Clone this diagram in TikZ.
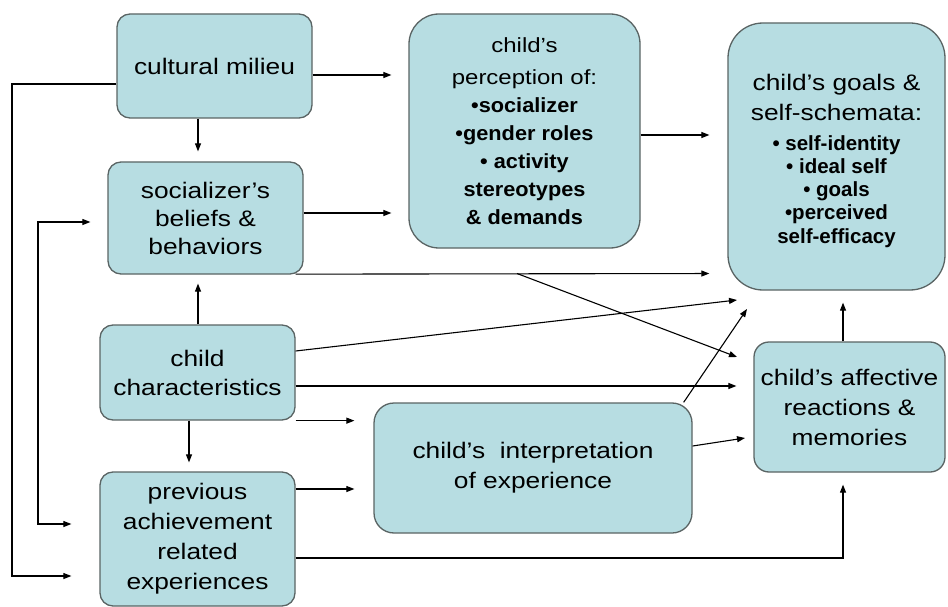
\documentclass[tikz,border=0pt]{standalone}
\usepackage{fontspec}
\setmainfont{Liberation Sans}[FakeStretch=1.17]
\newfontfamily\pcbold{Liberation Sans}[FakeStretch=1.06]
\newfontfamily\glbold{Liberation Sans}[FakeStretch=1.0]
\usetikzlibrary{arrows.meta}
\definecolor{boxfill}{RGB}{183,221,226}
\definecolor{boxline}{RGB}{90,100,100}
\begin{document}
\begin{tikzpicture}[x=1pt,y=-1pt,
  box/.style={draw=boxline, line width=1.3pt, fill=boxfill, rounded corners=#1,
    align=center, inner sep=0pt, font=\fontsize{22.5}{29}\selectfont},
  box/.default=13pt,
  arr/.style={-{Triangle[length=8pt,width=6pt]}, line width=1.1pt},
  arrtwo/.style={{Triangle[length=8pt,width=6pt]}-{Triangle[length=8pt,width=6pt]}, line width=1.1pt},
  ]
\useasboundingbox[fill=white] (0,0) rectangle (948,607);

% boxes
\node[box=13pt, minimum width=195pt, minimum height=104pt] (cm) at (214.5,66) {cultural milieu};
\node[box=13pt, minimum width=195pt, minimum height=112pt, font=\fontsize{22.5}{28}\selectfont] (soc) at (205.5,218) {socializer’s\\beliefs \&\\behaviors};
\node[box=30pt, minimum width=231pt, minimum height=234pt, font=\pcbold\fontsize{20.5}{28}\selectfont\bfseries] (pc) at (524.5,131)
  {{\rmfamily\mdseries\fontsize{20.5}{28}\selectfont child’s}\\[4pt]{\rmfamily\mdseries\fontsize{20.5}{28}\selectfont perception of:}\\•socializer\\•gender roles\\• activity\\stereotypes\\\& demands};
\node[box=35pt, minimum width=217pt, minimum height=267pt, font=\glbold\fontsize{20.5}{23.3}\selectfont\bfseries] (goals) at (836.5,156.5)
  {{\rmfamily\mdseries\fontsize{22.5}{23}\selectfont\rule{0pt}{24.5pt}child’s goals \&}\\[6.7pt]{\rmfamily\mdseries\fontsize{22.5}{23}\selectfont self-schemata:}\\[6.7pt]• self-identity\\• ideal self\\• goals\\•perceived\\self-efficacy};
\node[box=13pt, minimum width=195pt, minimum height=95pt] (cc) at (197.5,372.5) {child\\characteristics};
\node[box=13pt, minimum width=195pt, minimum height=134pt, font=\fontsize{22.5}{30}\selectfont] (prev) at (197.5,539) {previous\\achievement\\related\\experiences};
\node[box=20pt, minimum width=318pt, minimum height=130pt, font=\fontsize{22.5}{30}\selectfont] (interp) at (533,468) {child’s~~interpretation\\of experience};
\node[box=15pt, minimum width=191pt, minimum height=130pt, font=\fontsize{22.5}{30}\selectfont] (aff) at (849.5,407) {child’s affective\\reactions \&\\memories};

% helper coordinates
\coordinate (lo) at (12,576);
\coordinate (li1) at (38,222);
\coordinate (li2) at (38,524);
\coordinate (br) at (517,273.5);
\coordinate (t8) at (737,357);
\coordinate (t9) at (737,300);
\coordinate (t14) at (747,309);
\coordinate (t15) at (745,438);

% connectors
\draw[arr, shorten >=17pt] (cm.east |- 0,75) -- (pc.west |- 0,75);
\draw[arr, shorten >=10pt] (cm.south -| 198,0) -- (soc.north -| 198,0);
\draw[arr, shorten >=17pt] (soc.east |- 0,213) -- (pc.west |- 0,213);
\draw[arr, shorten >=18pt] (pc.east |- 0,135) -- (goals.west |- 0,135);
\draw[arr, shorten >=28pt] (cm.west |- 0,84) -| (lo) -- (prev.west |- lo);
\draw[arrtwo, shorten <=17pt, shorten >=28pt] (soc.west |- li1) -- (li1) -- (li2) -- (prev.west |- li2);
\draw[arr, shorten >=9pt] (cc.north -| 198,0) -- (soc.south -| 198,0);
\draw[arr, shorten >=18pt] ([xshift=-8pt,yshift=0.5pt]soc.south east) -- (goals.west |- br);
\draw[arr] (br) -- (t8);
\draw[arr] (cc.east |- 0,351) -- (t9);
\draw[arr, shorten >=17pt] (cc.east |- 0,386) -- (aff.west |- 0,386);
\draw[arr, shorten >=19pt] (cc.south east) -- (interp.west |- cc.south east);
\draw[arr, shorten >=9pt] (cc.south -| 189,0) -- (prev.north -| 189,0);
\draw[arr, shorten >=19pt] (prev.east |- 0,489) -- (interp.west |- 0,489);
\draw[arr] ([xshift=-9pt]interp.north east) -- (t14);
\draw[arr] (interp.east |- 0,446) -- (t15);
\draw[arr, shorten >=12pt] (prev.east |- 0,558) -| (aff.south -| 843,0);
\draw[arr, shorten >=12pt] (aff.north -| 843,0) -- (goals.south -| 843,0);
\end{tikzpicture}
\end{document}
